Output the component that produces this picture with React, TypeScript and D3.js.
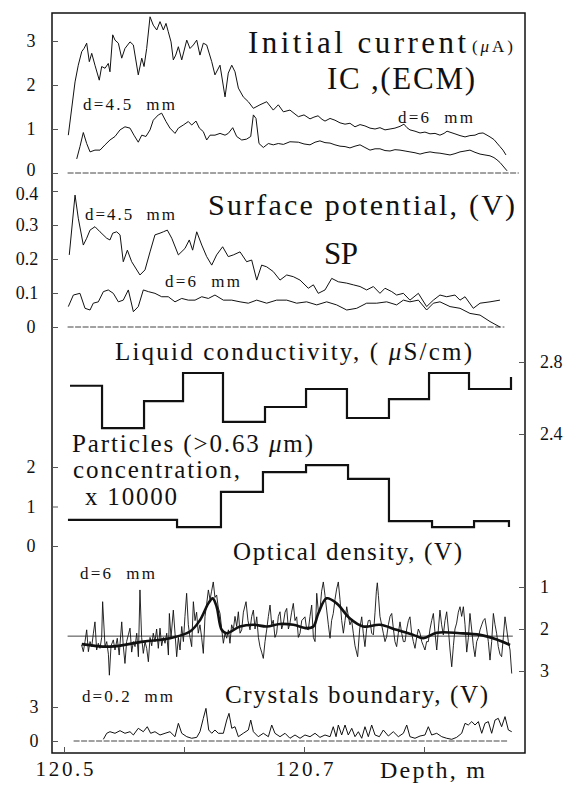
import React, { useEffect, useRef } from "react";
import * as d3 from "d3";

// depths in the series below are offsets (m) past D0
const D0 = 120.5;

// Initial current, ECM (uA)
const IC_45 = [[.0036,0.86],[.0092,2.07],[.0119,2.45],[.0148,2.76],[.0167,2.83],[.0189,2.95],[.0211,2.53],[.0231,2.72],[.0258,2.45],[.0294,2.11],[.0314,2.42],[.0342,2.38],[.0369,2.49],[.0383,2.30],[.0406,3.14],[.0425,3.02],[.0453,2.95],[.0481,2.61],[.0508,2.83],[.0550,2.98],[.0578,2.91],[.0619,2.23],[.0648,2.61],[.0667,2.42],[.0689,2.83],[.0717,3.55],[.0744,3.36],[.0773,3.25],[.0800,3.44],[.0828,3.25],[.0850,3.40],[.0869,3.21],[.0892,2.98],[.0911,2.57],[.0931,2.68],[.0953,2.87],[.0981,2.57],[.1023,3.02],[.1050,2.83],[.1078,2.91],[.1106,3.02],[.1133,2.68],[.1161,2.95],[.1189,2.91],[.1231,2.53],[.1258,2.23],[.1300,2.45],[.1342,1.73],[.1369,2.27],[.1398,2.45],[.1425,2.30],[.1453,1.93],[.1494,1.73],[.1536,1.62],[.1578,1.47],[.1633,1.55],[.1689,1.62],[.1744,1.43],[.1786,1.55],[.1828,1.39],[.1883,1.43],[.1953,1.28],[.2000,1.32],[.2050,1.23],[.2083,1.27],[.2117,1.30],[.2150,1.22],[.2175,1.18],[.2217,1.24],[.2258,1.20],[.2300,1.14],[.2342,1.11],[.2383,1.13],[.2425,1.05],[.2467,1.10],[.2508,1.07],[.2550,1.02],[.2592,1.00],[.2633,1.03],[.2675,0.98],[.2717,1.00],[.2758,1.02],[.2800,1.06],[.2833,1.11],[.2858,1.03],[.2883,0.98],[.2925,0.95],[.2967,0.91],[.3008,0.93],[.3050,0.89],[.3092,0.90],[.3133,0.86],[.3167,0.90],[.3192,0.95],[.3225,0.92],[.3258,0.89],[.3300,0.85],[.3342,0.82],[.3383,0.85],[.3425,0.86],[.3458,0.90],[.3492,0.91],[.3525,0.86],[.3550,0.82],[.3583,0.76],[.3608,0.68],[.3633,0.60],[.3658,0.52],[.3683,0.41]];
const IC_6 = [[.0106,0.32],[.0133,0.60],[.0161,0.92],[.0189,0.67],[.0217,0.48],[.0258,0.52],[.0300,0.52],[.0342,0.64],[.0383,0.75],[.0425,0.83],[.0467,0.98],[.0508,1.05],[.0550,1.02],[.0583,0.86],[.0619,0.70],[.0648,0.86],[.0683,0.83],[.0717,0.98],[.0744,1.20],[.0786,1.32],[.0814,1.36],[.0850,1.17],[.0883,1.02],[.0925,0.90],[.0953,1.02],[.0994,1.09],[.1036,1.17],[.1064,1.09],[.1100,1.18],[.1128,1.02],[.1161,0.94],[.1189,0.75],[.1217,0.86],[.1258,0.86],[.1300,0.90],[.1342,0.86],[.1369,0.90],[.1406,1.03],[.1439,0.83],[.1481,0.75],[.1522,0.77],[.1556,0.83],[.1578,1.32],[.1600,1.24],[.1625,0.67],[.1661,0.58],[.1703,0.67],[.1744,0.64],[.1786,0.67],[.1828,0.65],[.1883,0.71],[.1953,0.70],[.2000,0.66],[.2050,0.64],[.2092,0.70],[.2133,0.73],[.2175,0.69],[.2217,0.68],[.2258,0.64],[.2300,0.61],[.2342,0.60],[.2383,0.57],[.2425,0.61],[.2467,0.64],[.2508,0.58],[.2550,0.52],[.2592,0.55],[.2633,0.55],[.2675,0.51],[.2717,0.50],[.2758,0.53],[.2800,0.52],[.2842,0.50],[.2883,0.48],[.2925,0.46],[.2967,0.43],[.3008,0.46],[.3050,0.48],[.3092,0.46],[.3133,0.45],[.3175,0.43],[.3217,0.41],[.3258,0.44],[.3300,0.48],[.3342,0.50],[.3383,0.52],[.3425,0.47],[.3467,0.43],[.3508,0.41],[.3550,0.39],[.3583,0.35],[.3608,0.30],[.3633,0.24],[.3658,0.16],[.3692,0.05]];

// Surface potential (V)
const SP_45 = [[.0044,.212],[.0092,.388],[.0119,.320],[.0161,.241],[.0189,.261],[.0217,.285],[.0258,.295],[.0300,.280],[.0356,.261],[.0383,.256],[.0406,.276],[.0439,.280],[.0467,.271],[.0494,.192],[.0528,.226],[.0564,.192],[.0633,.153],[.0675,.168],[.0717,.221],[.0758,.271],[.0800,.276],[.0828,.280],[.0861,.285],[.0898,.261],[.0953,.212],[.1008,.231],[.1044,.256],[.1072,.226],[.1106,.280],[.1148,.241],[.1189,.207],[.1231,.182],[.1272,.212],[.1322,.236],[.1369,.207],[.1411,.212],[.1467,.221],[.1522,.192],[.1564,.197],[.1606,.138],[.1647,.182],[.1689,.177],[.1744,.163],[.1800,.138],[.1856,.153],[.1911,.148],[.1967,.138],[.2036,.114],[.2078,.124],[.2119,.099],[.2175,.109],[.2231,.143],[.2286,.133],[.2356,.129],[.2411,.124],[.2467,.119],[.2522,.109],[.2578,.119],[.2633,.099],[.2675,.114],[.2731,.104],[.2772,.094],[.2828,.099],[.2883,.079],[.2953,.099],[.3022,.060],[.3078,.079],[.3133,.094],[.3189,.089],[.3258,.094],[.3300,.079],[.3342,.089],[.3411,.055],[.3467,.070],[.3550,.074],[.3633,.079]];
const SP_6 = [[.0036,.060],[.0078,.094],[.0133,.099],[.0175,.055],[.0217,.050],[.0244,.070],[.0286,.074],[.0328,.104],[.0369,.109],[.0411,.099],[.0453,.074],[.0494,.079],[.0536,.109],[.0578,.045],[.0619,.060],[.0661,.109],[.0703,.104],[.0758,.099],[.0814,.089],[.0869,.089],[.0925,.074],[.0981,.084],[.1036,.079],[.1092,.079],[.1148,.089],[.1203,.084],[.1258,.094],[.1328,.079],[.1398,.079],[.1467,.074],[.1536,.070],[.1606,.079],[.1689,.070],[.1772,.079],[.1856,.079],[.1939,.070],[.2022,.074],[.2106,.065],[.2189,.074],[.2272,.065],[.2356,.050],[.2439,.055],[.2522,.070],[.2606,.070],[.2689,.074],[.2772,.065],[.2828,.079],[.2883,.074],[.2953,.079],[.3022,.050],[.3078,.070],[.3133,.074],[.3217,.060],[.3300,.055],[.3383,.040],[.3467,.035],[.3550,.016],[.3633,.000]];

// Liquid conductivity (uS/cm), stepwise
const COND_EDGES = [.005, .0317, .0667, .0992, .1325, .1675, .2017, .2358, .2708, .3042, .3375, .3725];
const COND_VALUES = [2.668, 2.433, 2.583, 2.739, 2.467, 2.55, 2.65, 2.489, 2.594, 2.739, 2.65];
const COND_END = 2.717;

// Particles (>0.63 um) concentration x 10000, stepwise
const PART_EDGES = [.0033, .0942, .1308, .1658, .2017, .2367, .2708, .3067, .3417, .3708];
const PART_VALUES = [0.66, 0.48, 1.37, 1.87, 2.05, 1.70, 0.63, 0.48, 0.63];
const PART_END = 0.48;

// Optical density (V)
const OD_RAW = [[.0147,2.38],[.0161,2.54],[.0175,2.30],[.0189,2.02],[.0203,2.54],[.0217,2.30],[.0231,2.42],[.0245,2.10],[.0258,1.83],[.0272,2.50],[.0286,2.34],[.0300,2.46],[.0314,2.20],[.0322,1.35],[.0342,2.42],[.0356,2.30],[.0370,2.60],[.0378,3.10],[.0392,2.40],[.0411,2.26],[.0425,2.50],[.0444,2.22],[.0460,2.62],[.0481,1.83],[.0494,2.40],[.0508,2.82],[.0522,2.30],[.0536,2.14],[.0550,1.98],[.0564,2.55],[.0578,2.30],[.0592,2.42],[.0606,2.10],[.0620,2.66],[.0633,1.07],[.0647,2.20],[.0661,2.58],[.0675,2.30],[.0689,2.46],[.0703,2.78],[.0717,2.20],[.0731,2.40],[.0744,2.10],[.0758,2.30],[.0772,2.00],[.0786,2.46],[.0800,1.98],[.0814,2.40],[.0828,2.20],[.0842,2.34],[.0856,2.10],[.0870,2.62],[.0878,1.63],[.0892,2.20],[.0911,1.55],[.0925,2.10],[.0939,2.66],[.0953,2.20],[.0967,2.50],[.0981,1.94],[.0995,2.30],[.1008,1.70],[.1022,1.15],[.1036,1.90],[.1050,2.20],[.1064,2.42],[.1078,1.35],[.1092,1.80],[.1105,1.60],[.1119,2.10],[.1133,1.90],[.1147,2.20],[.1161,2.58],[.1175,1.70],[.1189,1.40],[.1203,1.07],[.1217,1.30],[.1230,1.10],[.1244,0.88],[.1258,1.25],[.1272,1.19],[.1286,1.50],[.1300,1.63],[.1314,2.00],[.1328,2.34],[.1342,2.10],[.1356,2.22],[.1370,2.02],[.1383,2.34],[.1397,1.90],[.1411,2.02],[.1425,1.70],[.1439,1.94],[.1453,1.59],[.1467,2.10],[.1481,2.02],[.1495,1.60],[.1517,1.35],[.1533,1.80],[.1550,2.02],[.1564,1.70],[.1578,1.55],[.1592,2.00],[.1606,1.71],[.1620,2.20],[.1633,2.42],[.1647,2.55],[.1661,2.70],[.1675,2.30],[.1689,2.02],[.1703,1.70],[.1717,1.43],[.1731,1.90],[.1744,1.79],[.1758,2.20],[.1772,2.10],[.1786,1.70],[.1800,1.59],[.1814,2.00],[.1828,1.86],[.1842,1.60],[.1856,1.51],[.1870,2.00],[.1883,1.86],[.1897,1.60],[.1911,1.39],[.1925,1.80],[.1939,1.71],[.1953,2.20],[.1967,2.10],[.1981,1.80],[.2008,1.71],[.2022,2.00],[.2036,2.02],[.2050,1.70],[.2064,1.43],[.2078,2.20],[.2092,2.30],[.2106,1.15],[.2120,1.60],[.2133,1.55],[.2147,1.10],[.2161,0.88],[.2175,1.20],[.2189,1.55],[.2203,1.90],[.2217,2.22],[.2230,1.80],[.2244,1.63],[.2258,1.30],[.2272,1.05],[.2286,0.88],[.2300,1.30],[.2314,1.80],[.2328,2.10],[.2342,1.80],[.2356,1.47],[.2370,1.70],[.2383,1.90],[.2397,1.79],[.2411,2.10],[.2425,2.40],[.2447,2.66],[.2464,2.00],[.2481,1.71],[.2494,2.10],[.2508,2.42],[.2522,2.00],[.2536,1.80],[.2550,1.79],[.2564,2.10],[.2578,2.14],[.2592,1.60],[.2603,1.10],[.2611,0.90],[.2620,1.20],[.2633,1.70],[.2647,1.90],[.2661,2.10],[.2675,2.30],[.2689,2.18],[.2703,1.90],[.2717,1.70],[.2731,1.63],[.2745,2.00],[.2758,2.30],[.2772,2.42],[.2786,2.10],[.2800,1.83],[.2814,2.10],[.2828,2.30],[.2842,2.30],[.2856,2.00],[.2870,1.80],[.2883,1.71],[.2897,2.10],[.2911,2.30],[.2925,2.46],[.2939,2.20],[.2953,2.00],[.2967,2.10],[.2981,2.30],[.2995,2.40],[.3008,2.50],[.3022,2.30],[.3036,2.30],[.3050,2.00],[.3064,1.80],[.3078,1.63],[.3092,2.10],[.3106,2.50],[.3120,2.00],[.3133,1.55],[.3147,1.90],[.3161,2.14],[.3175,1.80],[.3189,1.59],[.3203,2.00],[.3217,2.50],[.3231,2.90],[.3245,2.40],[.3258,2.00],[.3272,1.86],[.3286,1.60],[.3300,1.47],[.3314,1.70],[.3328,1.47],[.3342,1.90],[.3356,2.55],[.3370,2.20],[.3383,1.63],[.3397,2.00],[.3411,2.40],[.3425,2.66],[.3439,2.30],[.3453,2.20],[.3467,2.02],[.3481,1.90],[.3494,1.80],[.3508,1.75],[.3522,2.00],[.3536,2.30],[.3550,2.74],[.3564,2.30],[.3578,1.63],[.3592,1.90],[.3605,2.10],[.3619,2.42],[.3633,2.60],[.3647,2.66],[.3661,2.20],[.3675,1.71],[.3689,2.00],[.3703,2.30],[.3717,2.50],[.3731,3.06]];
const OD_SMOOTH = [[.0148,2.36],[.0383,2.42],[.0661,2.30],[.0883,2.22],[.1050,2.06],[.1133,1.79],[.1203,1.39],[.1239,1.27],[.1272,1.47],[.1314,2.02],[.1356,2.10],[.1467,1.94],[.1578,1.90],[.1689,1.94],[.1800,1.88],[.1911,1.90],[.2022,1.98],[.2078,1.94],[.2119,1.63],[.2189,1.27],[.2272,1.39],[.2383,1.75],[.2494,1.94],[.2633,1.90],[.2772,2.02],[.2911,2.14],[.2994,2.22],[.3106,2.09],[.3300,2.10],[.3467,2.14],[.3606,2.25],[.3717,2.38]];
const OD_REF = 2.17;

// Crystals boundary (V)
const CB = [[.0328,0.15],[.0356,0.68],[.0383,0.82],[.0425,0.68],[.0467,0.91],[.0508,0.68],[.0550,0.82],[.0578,0.53],[.0619,1.12],[.0661,0.82],[.0694,1.26],[.0722,0.68],[.0758,0.82],[.0800,0.53],[.0842,0.68],[.0883,0.82],[.0925,0.38],[.0953,1.56],[.0981,0.68],[.1023,0.38],[.1064,0.24],[.1106,0.32],[.1133,0.82],[.1161,2.00],[.1183,2.88],[.1206,0.97],[.1231,0.68],[.1258,0.97],[.1286,0.68],[.1328,0.68],[.1356,1.85],[.1375,2.44],[.1398,1.12],[.1425,1.26],[.1453,0.38],[.1494,0.68],[.1536,0.97],[.1556,1.85],[.1578,0.82],[.1619,0.38],[.1661,0.68],[.1703,0.38],[.1731,1.41],[.1758,0.68],[.1800,0.38],[.1842,0.68],[.1883,0.24],[.1925,0.53],[.1967,0.24],[.2008,0.53],[.2050,0.38],[.2092,0.68],[.2133,0.32],[.2175,0.53],[.2217,0.38],[.2244,1.26],[.2267,0.38],[.2286,1.41],[.2314,0.53],[.2342,1.41],[.2369,0.53],[.2398,1.12],[.2425,0.38],[.2453,0.82],[.2481,0.24],[.2508,1.26],[.2536,0.38],[.2564,1.41],[.2592,0.53],[.2628,0.38],[.2661,0.97],[.2703,0.44],[.2744,0.82],[.2786,0.38],[.2828,0.68],[.2856,1.41],[.2883,0.38],[.2925,0.24],[.2967,0.44],[.3008,0.53],[.3036,1.26],[.3064,0.53],[.3106,0.68],[.3148,0.38],[.3189,0.24],[.3231,0.15],[.3272,0.32],[.3314,0.68],[.3342,1.56],[.3369,1.41],[.3398,1.71],[.3425,1.41],[.3453,1.71],[.3481,0.68],[.3508,1.56],[.3536,1.71],[.3564,0.68],[.3592,1.85],[.3619,2.00],[.3647,1.26],[.3675,2.15],[.3703,0.97],[.3731,0.82]];

const DEPTH_TICKS = [120.5, 120.6, 120.7, 120.8];
const DEPTH_LABELS = { 120.5: "120.5", 120.7: "120.7" };
const IC_TICKS = [0, 1, 2, 3];
const SP_TICKS = [0, 0.1, 0.2, 0.3, 0.4];
const COND_TICKS = [2.4, 2.8];
const PART_TICKS = [0, 1, 2];
const OD_TICKS = [1, 2, 3];
const CB_TICKS = [0, 3];

const FONT = "'Liberation Serif', 'Times New Roman', serif";
const INK = "#111";

export default function App() {
  const svgRef = useRef(null);

  useEffect(() => {
    const svg = d3.select(svgRef.current);
    svg.selectAll("*").remove();

    const frame = { left: 52, right: 525, top: 13, bottom: 753 };

    const x = d3.scaleLinear().domain([120.5, 120.8]).range([64, 424]);
    const yIC = d3.scaleLinear().domain([0, 3]).range([173, 41]);
    const ySP = d3.scaleLinear().domain([0, 0.4]).range([327, 191]);
    const yCond = d3.scaleLinear().domain([2.4, 2.8]).range([434, 362]);
    const yPart = d3.scaleLinear().domain([0, 2]).range([546, 467]);
    const yOD = d3.scaleLinear().domain([1, 3]).range([587, 671]);
    const yCB = d3.scaleLinear().domain([0, 3]).range([741, 707]);

    const g = svg.append("g").attr("font-family", FONT).attr("fill", INK);

    // frame
    g.append("rect")
      .attr("x", frame.left).attr("y", frame.top)
      .attr("width", frame.right - frame.left).attr("height", frame.bottom - frame.top)
      .attr("fill", "none").attr("stroke", INK).attr("stroke-width", 1.5);

    // baselines
    const hline = (yv, x0, x1, dash) => g.append("line")
      .attr("x1", x(D0 + x0)).attr("x2", x(D0 + x1)).attr("y1", yv).attr("y2", yv)
      .attr("stroke", "#444").attr("stroke-width", 1)
      .attr("stroke-dasharray", dash);
    hline(yIC(0), 0.003, 0.379, "6 1.5");
    hline(ySP(0), 0.003, 0.367, "6 1.5");
    hline(yOD(OD_REF), 0.003, 0.374, null);
    hline(yCB(0), 0.008, 0.370, "6 1.5");

    const trace = (data, y, width, smooth) => g.append("path")
      .datum(data)
      .attr("fill", "none")
      .attr("stroke", INK)
      .attr("stroke-width", width)
      .attr("stroke-linejoin", "round")
      .attr("d", d3.line()
        .x(d => x(D0 + d[0]))
        .y(d => y(d[1]))
        .curve(smooth ? d3.curveCatmullRom : d3.curveLinear));

    trace(IC_45, yIC, 1, false);
    trace(IC_6, yIC, 1, false);
    trace(SP_45, ySP, 1, false);
    trace(SP_6, ySP, 1, false);
    trace(OD_RAW, yOD, 0.9, false);
    trace(OD_SMOOTH, yOD, 2.6, true);
    trace(CB, yCB, 1, false);

    const steps = (edges, values, end, y) => {
      const pts = values.map((v, i) => [edges[i], v]);
      pts.push([edges[edges.length - 1], values[values.length - 1]]);
      pts.push([edges[edges.length - 1], end]);
      g.append("path")
        .attr("fill", "none").attr("stroke", INK).attr("stroke-width", 2.2)
        .attr("d", d3.line().x(d => x(D0 + d[0])).y(d => y(d[1])).curve(d3.curveStepAfter)(pts));
    };
    steps(COND_EDGES, COND_VALUES, COND_END, yCond);
    steps(PART_EDGES, PART_VALUES, PART_END, yPart);

    // axes
    const styleAxis = (sel, size) => {
      sel.select(".domain").remove();
      sel.selectAll(".tick line").attr("stroke", "#555").attr("stroke-width", 1);
      sel.selectAll(".tick text").attr("font-family", FONT).attr("font-size", size).attr("fill", INK);
    };
    const leftAxis = (y, ticks, fmt, xpos, dy = () => "0.32em") => {
      const a = g.append("g").attr("transform", `translate(${frame.left},0)`)
        .call(d3.axisLeft(y).tickValues(ticks).tickSizeInner(-6).tickSizeOuter(0).tickFormat(fmt));
      styleAxis(a, 18);
      a.selectAll(".tick text").attr("text-anchor", "middle").attr("x", xpos).attr("dy", dy);
    };
    leftAxis(yIC, IC_TICKS, d3.format("d"), () => -21, d => (d === 0 ? "0.15em" : "0.32em"));
    leftAxis(ySP, SP_TICKS, d => (d === 0 ? "0" : d3.format(".1f")(d)), d => (d === 0 ? -21 : -25),
      d => (d === 0.4 ? "0.45em" : "0.32em"));
    leftAxis(yPart, PART_TICKS, d3.format("d"), () => -21);
    leftAxis(yCB, CB_TICKS, d3.format("d"), () => -18);

    const rightAxis = (y, ticks, fmt) => {
      const a = g.append("g").attr("transform", `translate(${frame.right},0)`)
        .call(d3.axisRight(y).tickValues(ticks).tickSizeInner(-6).tickSizeOuter(0).tickPadding(15).tickFormat(fmt));
      styleAxis(a, 18);
    };
    rightAxis(yCond, COND_TICKS, d3.format(".1f"));
    rightAxis(yOD, OD_TICKS, d3.format("d"));

    const bottom = g.append("g").attr("transform", `translate(0,${frame.bottom})`)
      .call(d3.axisBottom(x).tickValues(DEPTH_TICKS).tickSizeInner(-6).tickSizeOuter(0).tickPadding(8)
        .tickFormat(d => DEPTH_LABELS[d] || ""));
    styleAxis(bottom, 21);
    bottom.selectAll(".tick text").attr("textLength", 58).attr("lengthAdjust", "spacing");

    // labels
    const label = (parts, lx, ly, size, len, anchor = "start") => {
      const t = g.append("text")
        .attr("x", lx).attr("y", ly)
        .attr("font-size", size)
        .attr("text-anchor", anchor)
        .style("white-space", "pre");
      if (len) t.attr("textLength", len).attr("lengthAdjust", "spacing");
      (typeof parts === "string" ? [[parts, false]] : parts).forEach(([s, it]) => {
        t.append("tspan").attr("font-style", it ? "italic" : "normal").text(s);
      });
      return t;
    };

    label("Initial current", 248, 53, 31, 218);
    label([["(", false], ["\u03bc", true], ["A)", false]], 472, 52, 17, 41);
    label("IC ,(ECM)", 327, 89, 31, 148);
    label("d=4.5  mm", 83, 110, 17, 92);
    label("d=6  mm", 398, 123, 17, 75);

    label("Surface potential, (V)", 208, 215, 30, 307);
    label("SP", 324, 264, 31, 34);
    label("d=4.5  mm", 85, 220, 17, 90);
    label("d=6  mm", 165, 287, 17, 75);

    label([["Liquid conductivity, ( ", false], ["\u03bc", true], ["S/cm)", false]], 115, 360, 25, 357);
    label([["Particles (>0.63 ", false], ["\u03bc", true], ["m)", false]], 72, 452, 25, 241);
    label("concentration,", 73, 478, 25, 167);
    label("x 10000", 85, 505, 25, 92);

    label("Optical density, (V)", 233, 560, 25, 229);
    label("d=6  mm", 80, 579, 17, 75);

    label("d=0.2  mm", 82, 702, 17, 91);
    label("Crystals boundary, (V)", 225, 703, 25, 263);

    label("Depth, m", 380, 778, 24, 105);
  }, []);

  return (
    <svg
      ref={svgRef}
      width={572}
      height={785}
      style={{ position: "absolute", left: 0, top: 0, background: "#fff" }}
    />
  );
}
